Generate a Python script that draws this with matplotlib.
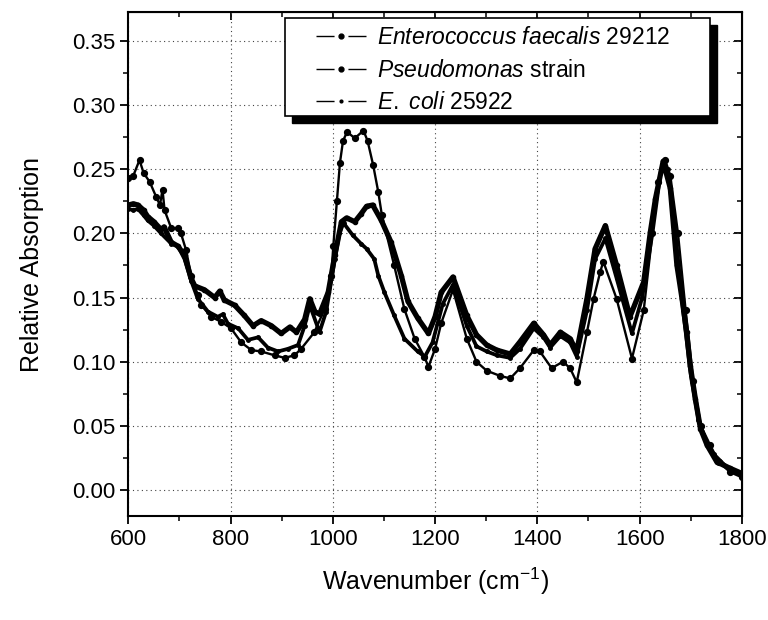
import matplotlib
matplotlib.use("Agg")
import matplotlib.pyplot as plt
from matplotlib.lines import Line2D
from matplotlib.patches import Rectangle
from matplotlib.ticker import MultipleLocator, FormatStrFormatter

plt.rcParams['font.family'] = ['Liberation Sans', 'DejaVu Sans']
plt.rcParams['mathtext.fontset'] = 'custom'
plt.rcParams['mathtext.rm'] = 'Liberation Sans'
plt.rcParams['mathtext.it'] = 'Liberation Sans:italic'

# values (wavenumber in cm-1, relative absorption)
x_entero = [600, 610, 619, 630, 638, 650, 664, 670, 684, 697, 710, 723, 730, 749, 769, 779,
            788, 808, 827, 844, 860, 880, 899, 916, 929, 945, 955, 965, 974, 991, 1004, 1017,
            1027, 1043, 1055, 1066, 1078, 1095, 1114, 1134, 1147, 1166, 1187, 1200, 1212, 1235,
            1262, 1281, 1301, 1321, 1347, 1366, 1393, 1412, 1425, 1445, 1464, 1477, 1497, 1513,
            1533, 1555, 1581, 1608, 1621, 1631, 1646, 1660, 1673, 1683, 1692, 1699, 1709, 1719,
            1732, 1751, 1777, 1800]
y_entero = [0.222, 0.223, 0.222, 0.218, 0.213, 0.209, 0.203, 0.205, 0.193, 0.190, 0.183, 0.165,
            0.159, 0.156, 0.150, 0.155, 0.148, 0.144, 0.136, 0.128, 0.132, 0.128, 0.122, 0.127,
            0.123, 0.133, 0.149, 0.139, 0.137, 0.154, 0.183, 0.209, 0.212, 0.209, 0.215, 0.221,
            0.222, 0.210, 0.193, 0.167, 0.147, 0.134, 0.122, 0.135, 0.154, 0.166, 0.136, 0.121,
            0.113, 0.109, 0.106, 0.1155, 0.130, 0.121, 0.113, 0.123, 0.118, 0.108, 0.149, 0.188,
            0.206, 0.175, 0.135, 0.162, 0.201, 0.227, 0.256, 0.235, 0.175, 0.149, 0.123, 0.097,
            0.071, 0.048, 0.035, 0.022, 0.017, 0.013]

x_pseudo = [600, 610, 622, 630, 642, 655, 662, 667, 671, 684, 697, 703, 713, 723, 736, 743, 762,
            782, 801, 821, 841, 860, 886, 906, 925, 938, 964, 984, 997, 1001, 1008, 1014, 1020,
            1028, 1043, 1060, 1068, 1079, 1089, 1096, 1120, 1140, 1160, 1179, 1187, 1200, 1212,
            1235, 1262, 1281, 1301, 1327, 1347, 1366, 1393, 1405, 1428, 1450, 1464, 1477, 1497,
            1510, 1523, 1529, 1555, 1585, 1608, 1625, 1636, 1650, 1660, 1675, 1690, 1705, 1720,
            1738, 1755, 1777, 1800]
y_pseudo = [0.243, 0.245, 0.257, 0.247, 0.240, 0.228, 0.222, 0.234, 0.218, 0.204, 0.204, 0.200,
            0.187, 0.167, 0.152, 0.144, 0.135, 0.131, 0.126, 0.115, 0.109, 0.108, 0.105, 0.103,
            0.105, 0.110, 0.123, 0.141, 0.167, 0.190, 0.225, 0.255, 0.272, 0.279, 0.274, 0.280,
            0.272, 0.253, 0.232, 0.214, 0.175, 0.141, 0.118, 0.104, 0.096, 0.110, 0.130, 0.156,
            0.118, 0.100, 0.093, 0.089, 0.087, 0.095, 0.109, 0.108, 0.095, 0.100, 0.095, 0.084,
            0.123, 0.149, 0.170, 0.178, 0.149, 0.1025, 0.140, 0.200, 0.240, 0.257, 0.245, 0.200,
            0.140, 0.085, 0.050, 0.035, 0.022, 0.014, 0.010]

x_ecoli = [600, 610, 619, 630, 638, 650, 664, 684, 697, 710, 723, 736, 756, 775, 785, 795, 815,
           834, 854, 873, 893, 912, 932, 945, 955, 974, 987, 1004, 1013, 1021, 1039, 1055, 1066,
           1081, 1089, 1101, 1120, 1140, 1166, 1180, 1195, 1215, 1235, 1262, 1281, 1301, 1321,
           1347, 1366, 1393, 1412, 1425, 1445, 1464, 1477, 1497, 1513, 1533, 1555, 1585, 1605,
           1625, 1642, 1655, 1670, 1685, 1700, 1715, 1730, 1745, 1770, 1800]
y_ecoli = [0.219, 0.218, 0.219, 0.214, 0.210, 0.206, 0.200, 0.192, 0.190, 0.180, 0.163, 0.149,
           0.139, 0.135, 0.137, 0.1296, 0.126, 0.117, 0.119, 0.111, 0.108, 0.110, 0.113, 0.128,
           0.144, 0.123, 0.139, 0.180, 0.200, 0.208, 0.1985, 0.192, 0.188, 0.180, 0.167, 0.154,
           0.136, 0.118, 0.108, 0.104, 0.115, 0.145, 0.160, 0.128, 0.112, 0.108, 0.105, 0.103,
           0.110, 0.126, 0.119, 0.111, 0.120, 0.115, 0.104, 0.140, 0.180, 0.196, 0.165, 0.122,
           0.150, 0.200, 0.250, 0.250, 0.200, 0.140, 0.090, 0.055, 0.038, 0.028, 0.018, 0.011]

labels = [r'$\mathit{Enterococcus\ faecalis}$ 29212',
          r'$\mathit{Pseudomonas}$ strain',
          r'$\mathit{E.\ coli}$ 25922']

W, H = 768, 620
fig = plt.figure(figsize=(W / 100, H / 100), dpi=100)
ax = fig.add_axes([0.167, 0.168, 0.799, 0.812])

ax.plot(x_entero, y_entero, color='k', lw=3.8, marker='o', ms=3, zorder=3)
ax.plot(x_pseudo, y_pseudo, color='k', lw=1.7, marker='o', ms=4.2, zorder=3)
ax.plot(x_ecoli, y_ecoli, color='k', lw=2.7, marker='o', ms=2.5, zorder=3)

ax.set_xlim(600, 1800)
ax.set_ylim(-0.02, 0.372)
ax.xaxis.set_major_locator(MultipleLocator(200))
ax.xaxis.set_minor_locator(MultipleLocator(100))
ax.yaxis.set_major_locator(MultipleLocator(0.05))
ax.yaxis.set_minor_locator(MultipleLocator(0.025))
ax.yaxis.set_major_formatter(FormatStrFormatter('%.2f'))
ax.grid(True, which='major', color='#444444', lw=0.8, linestyle=(0, (1, 3)))

for sp in ax.spines.values():
    sp.set_linewidth(1.5)
ax.tick_params(which='major', direction='out', length=6, width=1.3, labelsize=16)
ax.tick_params(which='minor', direction='out', length=3.5, width=1.1)

# mirrored ticks on top and right point inward
secx = ax.secondary_xaxis('top')
secx.xaxis.set_major_locator(MultipleLocator(200))
secx.xaxis.set_minor_locator(MultipleLocator(100))
secx.tick_params(which='major', direction='in', length=6, width=1.3, labeltop=False)
secx.tick_params(which='minor', direction='in', length=3.5, width=1.1)
secy = ax.secondary_yaxis('right')
secy.yaxis.set_major_locator(MultipleLocator(0.05))
secy.yaxis.set_minor_locator(MultipleLocator(0.025))
secy.tick_params(which='major', direction='in', length=6, width=1.3, labelright=False)
secy.tick_params(which='minor', direction='in', length=3.5, width=1.1)

ax.set_xlabel('Wavenumber (cm$^{-1}$)', fontsize=18, labelpad=11)
ax.set_ylabel('Relative Absorption', fontsize=18, labelpad=20)

# legend box with a solid drop shadow, as in the original
bx, by, bw, bh = 285, 18, 425, 98
fig.add_artist(Rectangle(((bx + 7) / W, 1 - (by + bh + 7) / H), bw / W, bh / H,
                         transform=fig.transFigure, fc='k', ec='k', zorder=6))
fig.add_artist(Rectangle((bx / W, 1 - (by + bh) / H), bw / W, bh / H,
                         transform=fig.transFigure, fc='white', ec='k', lw=1.2, zorder=7))

dash = (0, (13, 10, 13))
handles = [Line2D([], [], color='k', lw=1.0, ls=dash, marker='o', ms=3.5),
           Line2D([], [], color='k', lw=1.0, ls=dash, marker='o', ms=3.5),
           Line2D([], [], color='k', lw=1.0, ls=dash, marker='o', ms=2)]
leg = fig.legend(handles, labels, loc='upper left', bbox_to_anchor=(316 / W, 1 - 26 / H),
                 fontsize=16.5, frameon=False, handlelength=2.2, handletextpad=0.45,
                 labelspacing=0.42, borderpad=0, borderaxespad=0, numpoints=1)
leg.set_zorder(8)

fig.savefig('out.png', dpi=100)
